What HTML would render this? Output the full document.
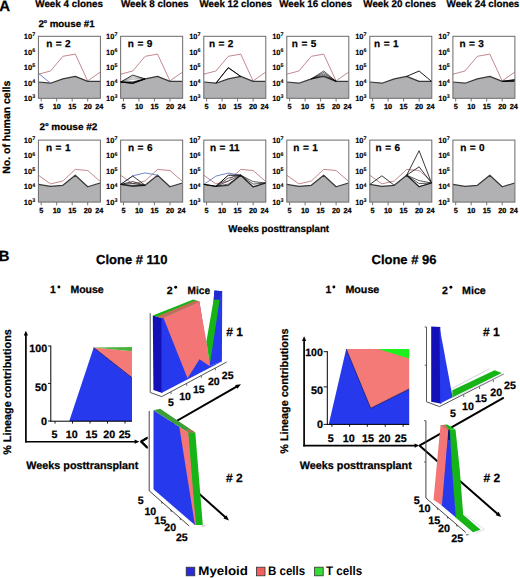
<!DOCTYPE html>
<html><head><meta charset="utf-8"><style>
html,body{margin:0;padding:0;background:#fff;}
body{width:520px;height:578px;overflow:hidden;}
svg{display:block;font-family:"Liberation Sans", sans-serif;text-rendering:geometricPrecision;}
</style></head><body>
<svg width="520" height="578" viewBox="0 0 520 578">
<text x="-0.70" y="10.90" font-size="15" text-anchor="start" font-weight="bold" fill="#000" stroke="#000" stroke-width="0.25" >A</text>
<text x="35.30" y="7.00" font-size="9.8" text-anchor="start" font-weight="bold" fill="#000" stroke="#000" stroke-width="0.25" textLength="67.6" lengthAdjust="spacingAndGlyphs">Week 4 clones</text>
<text x="121.00" y="7.00" font-size="9.8" text-anchor="start" font-weight="bold" fill="#000" stroke="#000" stroke-width="0.25" textLength="67.6" lengthAdjust="spacingAndGlyphs">Week 8 clones</text>
<text x="199.50" y="7.00" font-size="9.8" text-anchor="start" font-weight="bold" fill="#000" stroke="#000" stroke-width="0.25" textLength="72.5" lengthAdjust="spacingAndGlyphs">Week 12 clones</text>
<text x="279.20" y="7.00" font-size="9.8" text-anchor="start" font-weight="bold" fill="#000" stroke="#000" stroke-width="0.25" textLength="72.69999999999999" lengthAdjust="spacingAndGlyphs">Week 16 clones</text>
<text x="363.35" y="7.00" font-size="9.8" text-anchor="start" font-weight="bold" fill="#000" stroke="#000" stroke-width="0.25" textLength="72.69999999999999" lengthAdjust="spacingAndGlyphs">Week 20 clones</text>
<text x="446.60" y="7.00" font-size="9.8" text-anchor="start" font-weight="bold" fill="#000" stroke="#000" stroke-width="0.25" textLength="72.69999999999999" lengthAdjust="spacingAndGlyphs">Week 24 clones</text>
<text x="38.40" y="26.80" font-size="9.6" text-anchor="start" font-weight="bold" fill="#000" stroke="#000" stroke-width="0.25" textLength="56.2" lengthAdjust="spacingAndGlyphs">2<tspan font-size="5.2" dy="-3.6">o</tspan><tspan dy="3.6"> mouse #1</tspan></text>
<text x="39.60" y="129.80" font-size="9.6" text-anchor="start" font-weight="bold" fill="#000" stroke="#000" stroke-width="0.25" textLength="57.8" lengthAdjust="spacingAndGlyphs">2<tspan font-size="5.2" dy="-3.6">o</tspan><tspan dy="3.6"> mouse #2</tspan></text>
<polygon points="38.40,98.30 38.40,82.00 50.50,83.20 62.90,78.90 75.30,76.40 87.70,81.40 100.10,81.40 100.40,98.30" fill="#b1b1b3" stroke="none" stroke-width="0" />
<polyline points="38.40,74.20 50.50,71.00 62.90,56.30 75.30,54.10 87.70,80.90 100.10,72.20" fill="none" stroke="#c48890" stroke-width="1.0" stroke-linejoin="round" />
<polyline points="38.40,82.00 50.50,83.20 62.90,78.90 75.30,76.40 87.70,81.40 100.10,81.40" fill="none" stroke="#383838" stroke-width="1.2" stroke-linejoin="round" />
<rect x="38.40" y="36.30" width="62.0" height="62.0" fill="none" stroke="#6a6a6a" stroke-width="1"/>
<text x="32.10" y="101.00" font-size="7.5" text-anchor="end" font-weight="bold" fill="#000" stroke="#000" stroke-width="0.15" >10</text>
<text x="32.20" y="98.40" font-size="5.4" text-anchor="start" font-weight="bold" fill="#000" stroke="#000" stroke-width="0.1" >3</text>
<text x="32.10" y="85.50" font-size="7.5" text-anchor="end" font-weight="bold" fill="#000" stroke="#000" stroke-width="0.15" >10</text>
<text x="32.20" y="82.90" font-size="5.4" text-anchor="start" font-weight="bold" fill="#000" stroke="#000" stroke-width="0.1" >4</text>
<text x="32.10" y="70.00" font-size="7.5" text-anchor="end" font-weight="bold" fill="#000" stroke="#000" stroke-width="0.15" >10</text>
<text x="32.20" y="67.40" font-size="5.4" text-anchor="start" font-weight="bold" fill="#000" stroke="#000" stroke-width="0.1" >5</text>
<text x="32.10" y="54.50" font-size="7.5" text-anchor="end" font-weight="bold" fill="#000" stroke="#000" stroke-width="0.15" >10</text>
<text x="32.20" y="51.90" font-size="5.4" text-anchor="start" font-weight="bold" fill="#000" stroke="#000" stroke-width="0.1" >6</text>
<text x="32.10" y="39.00" font-size="7.5" text-anchor="end" font-weight="bold" fill="#000" stroke="#000" stroke-width="0.15" >10</text>
<text x="32.20" y="36.40" font-size="5.4" text-anchor="start" font-weight="bold" fill="#000" stroke="#000" stroke-width="0.1" >7</text>
<line x1="41.20" y1="98.30" x2="41.20" y2="101.50" stroke="#666" stroke-width="0.9" />
<text x="41.20" y="109.40" font-size="7.3" text-anchor="middle" font-weight="bold" fill="#000" stroke="#000" stroke-width="0.25" >5</text>
<line x1="56.70" y1="98.30" x2="56.70" y2="101.50" stroke="#666" stroke-width="0.9" />
<text x="56.70" y="109.40" font-size="7.3" text-anchor="middle" font-weight="bold" fill="#000" stroke="#000" stroke-width="0.25" >10</text>
<line x1="72.20" y1="98.30" x2="72.20" y2="101.50" stroke="#666" stroke-width="0.9" />
<text x="72.20" y="109.40" font-size="7.3" text-anchor="middle" font-weight="bold" fill="#000" stroke="#000" stroke-width="0.25" >15</text>
<line x1="87.70" y1="98.30" x2="87.70" y2="101.50" stroke="#666" stroke-width="0.9" />
<text x="87.70" y="109.40" font-size="7.3" text-anchor="middle" font-weight="bold" fill="#000" stroke="#000" stroke-width="0.25" >20</text>
<text x="99.20" y="109.40" font-size="7.3" text-anchor="middle" font-weight="bold" fill="#000" stroke="#000" stroke-width="0.25" >24</text>
<text x="46.20" y="47.20" font-size="10" text-anchor="start" font-weight="bold" fill="#000" stroke="#000" stroke-width="0.25" word-spacing="0.7">n = 2</text>
<polygon points="120.65,98.30 120.65,82.00 132.75,83.20 145.15,78.90 157.55,76.40 169.95,81.40 182.35,81.40 182.65,98.30" fill="#b1b1b3" stroke="none" stroke-width="0" />
<polyline points="120.65,74.20 132.75,71.00 145.15,56.30 157.55,54.10 169.95,80.90 182.35,72.20" fill="none" stroke="#c48890" stroke-width="1.0" stroke-linejoin="round" />
<polyline points="120.65,82.00 132.75,83.20 145.15,78.90 157.55,76.40 169.95,81.40 182.35,81.40" fill="none" stroke="#383838" stroke-width="1.2" stroke-linejoin="round" />
<rect x="120.65" y="36.30" width="62.0" height="62.0" fill="none" stroke="#6a6a6a" stroke-width="1"/>
<text x="114.35" y="101.00" font-size="7.5" text-anchor="end" font-weight="bold" fill="#000" stroke="#000" stroke-width="0.15" >10</text>
<text x="114.45" y="98.40" font-size="5.4" text-anchor="start" font-weight="bold" fill="#000" stroke="#000" stroke-width="0.1" >3</text>
<text x="114.35" y="85.50" font-size="7.5" text-anchor="end" font-weight="bold" fill="#000" stroke="#000" stroke-width="0.15" >10</text>
<text x="114.45" y="82.90" font-size="5.4" text-anchor="start" font-weight="bold" fill="#000" stroke="#000" stroke-width="0.1" >4</text>
<text x="114.35" y="70.00" font-size="7.5" text-anchor="end" font-weight="bold" fill="#000" stroke="#000" stroke-width="0.15" >10</text>
<text x="114.45" y="67.40" font-size="5.4" text-anchor="start" font-weight="bold" fill="#000" stroke="#000" stroke-width="0.1" >5</text>
<text x="114.35" y="54.50" font-size="7.5" text-anchor="end" font-weight="bold" fill="#000" stroke="#000" stroke-width="0.15" >10</text>
<text x="114.45" y="51.90" font-size="5.4" text-anchor="start" font-weight="bold" fill="#000" stroke="#000" stroke-width="0.1" >6</text>
<text x="114.35" y="39.00" font-size="7.5" text-anchor="end" font-weight="bold" fill="#000" stroke="#000" stroke-width="0.15" >10</text>
<text x="114.45" y="36.40" font-size="5.4" text-anchor="start" font-weight="bold" fill="#000" stroke="#000" stroke-width="0.1" >7</text>
<line x1="123.45" y1="98.30" x2="123.45" y2="101.50" stroke="#666" stroke-width="0.9" />
<text x="123.45" y="109.40" font-size="7.3" text-anchor="middle" font-weight="bold" fill="#000" stroke="#000" stroke-width="0.25" >5</text>
<line x1="138.95" y1="98.30" x2="138.95" y2="101.50" stroke="#666" stroke-width="0.9" />
<text x="138.95" y="109.40" font-size="7.3" text-anchor="middle" font-weight="bold" fill="#000" stroke="#000" stroke-width="0.25" >10</text>
<line x1="154.45" y1="98.30" x2="154.45" y2="101.50" stroke="#666" stroke-width="0.9" />
<text x="154.45" y="109.40" font-size="7.3" text-anchor="middle" font-weight="bold" fill="#000" stroke="#000" stroke-width="0.25" >15</text>
<line x1="169.95" y1="98.30" x2="169.95" y2="101.50" stroke="#666" stroke-width="0.9" />
<text x="169.95" y="109.40" font-size="7.3" text-anchor="middle" font-weight="bold" fill="#000" stroke="#000" stroke-width="0.25" >20</text>
<text x="181.45" y="109.40" font-size="7.3" text-anchor="middle" font-weight="bold" fill="#000" stroke="#000" stroke-width="0.25" >24</text>
<text x="127.80" y="47.20" font-size="10" text-anchor="start" font-weight="bold" fill="#000" stroke="#000" stroke-width="0.25" word-spacing="0.7">n = 9</text>
<polygon points="203.80,98.30 203.80,82.00 215.90,83.20 228.30,78.90 240.70,76.40 253.10,81.40 265.50,81.40 265.80,98.30" fill="#b1b1b3" stroke="none" stroke-width="0" />
<polyline points="203.80,74.20 215.90,71.00 228.30,56.30 240.70,54.10 253.10,80.90 265.50,72.20" fill="none" stroke="#c48890" stroke-width="1.0" stroke-linejoin="round" />
<polyline points="203.80,82.00 215.90,83.20 228.30,78.90 240.70,76.40 253.10,81.40 265.50,81.40" fill="none" stroke="#383838" stroke-width="1.2" stroke-linejoin="round" />
<rect x="203.80" y="36.30" width="62.0" height="62.0" fill="none" stroke="#6a6a6a" stroke-width="1"/>
<text x="197.50" y="101.00" font-size="7.5" text-anchor="end" font-weight="bold" fill="#000" stroke="#000" stroke-width="0.15" >10</text>
<text x="197.60" y="98.40" font-size="5.4" text-anchor="start" font-weight="bold" fill="#000" stroke="#000" stroke-width="0.1" >3</text>
<text x="197.50" y="85.50" font-size="7.5" text-anchor="end" font-weight="bold" fill="#000" stroke="#000" stroke-width="0.15" >10</text>
<text x="197.60" y="82.90" font-size="5.4" text-anchor="start" font-weight="bold" fill="#000" stroke="#000" stroke-width="0.1" >4</text>
<text x="197.50" y="70.00" font-size="7.5" text-anchor="end" font-weight="bold" fill="#000" stroke="#000" stroke-width="0.15" >10</text>
<text x="197.60" y="67.40" font-size="5.4" text-anchor="start" font-weight="bold" fill="#000" stroke="#000" stroke-width="0.1" >5</text>
<text x="197.50" y="54.50" font-size="7.5" text-anchor="end" font-weight="bold" fill="#000" stroke="#000" stroke-width="0.15" >10</text>
<text x="197.60" y="51.90" font-size="5.4" text-anchor="start" font-weight="bold" fill="#000" stroke="#000" stroke-width="0.1" >6</text>
<text x="197.50" y="39.00" font-size="7.5" text-anchor="end" font-weight="bold" fill="#000" stroke="#000" stroke-width="0.15" >10</text>
<text x="197.60" y="36.40" font-size="5.4" text-anchor="start" font-weight="bold" fill="#000" stroke="#000" stroke-width="0.1" >7</text>
<line x1="206.60" y1="98.30" x2="206.60" y2="101.50" stroke="#666" stroke-width="0.9" />
<text x="206.60" y="109.40" font-size="7.3" text-anchor="middle" font-weight="bold" fill="#000" stroke="#000" stroke-width="0.25" >5</text>
<line x1="222.10" y1="98.30" x2="222.10" y2="101.50" stroke="#666" stroke-width="0.9" />
<text x="222.10" y="109.40" font-size="7.3" text-anchor="middle" font-weight="bold" fill="#000" stroke="#000" stroke-width="0.25" >10</text>
<line x1="237.60" y1="98.30" x2="237.60" y2="101.50" stroke="#666" stroke-width="0.9" />
<text x="237.60" y="109.40" font-size="7.3" text-anchor="middle" font-weight="bold" fill="#000" stroke="#000" stroke-width="0.25" >15</text>
<line x1="253.10" y1="98.30" x2="253.10" y2="101.50" stroke="#666" stroke-width="0.9" />
<text x="253.10" y="109.40" font-size="7.3" text-anchor="middle" font-weight="bold" fill="#000" stroke="#000" stroke-width="0.25" >20</text>
<text x="264.60" y="109.40" font-size="7.3" text-anchor="middle" font-weight="bold" fill="#000" stroke="#000" stroke-width="0.25" >24</text>
<text x="208.90" y="47.20" font-size="10" text-anchor="start" font-weight="bold" fill="#000" stroke="#000" stroke-width="0.25" word-spacing="0.7">n = 2</text>
<polygon points="286.80,98.30 286.80,82.00 298.90,83.20 311.30,78.90 323.70,76.40 336.10,81.40 348.50,81.40 348.80,98.30" fill="#b1b1b3" stroke="none" stroke-width="0" />
<polyline points="286.80,74.20 298.90,71.00 311.30,56.30 323.70,54.10 336.10,80.90 348.50,72.20" fill="none" stroke="#c48890" stroke-width="1.0" stroke-linejoin="round" />
<polyline points="286.80,82.00 298.90,83.20 311.30,78.90 323.70,76.40 336.10,81.40 348.50,81.40" fill="none" stroke="#383838" stroke-width="1.2" stroke-linejoin="round" />
<rect x="286.80" y="36.30" width="62.0" height="62.0" fill="none" stroke="#6a6a6a" stroke-width="1"/>
<text x="280.50" y="101.00" font-size="7.5" text-anchor="end" font-weight="bold" fill="#000" stroke="#000" stroke-width="0.15" >10</text>
<text x="280.60" y="98.40" font-size="5.4" text-anchor="start" font-weight="bold" fill="#000" stroke="#000" stroke-width="0.1" >3</text>
<text x="280.50" y="85.50" font-size="7.5" text-anchor="end" font-weight="bold" fill="#000" stroke="#000" stroke-width="0.15" >10</text>
<text x="280.60" y="82.90" font-size="5.4" text-anchor="start" font-weight="bold" fill="#000" stroke="#000" stroke-width="0.1" >4</text>
<text x="280.50" y="70.00" font-size="7.5" text-anchor="end" font-weight="bold" fill="#000" stroke="#000" stroke-width="0.15" >10</text>
<text x="280.60" y="67.40" font-size="5.4" text-anchor="start" font-weight="bold" fill="#000" stroke="#000" stroke-width="0.1" >5</text>
<text x="280.50" y="54.50" font-size="7.5" text-anchor="end" font-weight="bold" fill="#000" stroke="#000" stroke-width="0.15" >10</text>
<text x="280.60" y="51.90" font-size="5.4" text-anchor="start" font-weight="bold" fill="#000" stroke="#000" stroke-width="0.1" >6</text>
<text x="280.50" y="39.00" font-size="7.5" text-anchor="end" font-weight="bold" fill="#000" stroke="#000" stroke-width="0.15" >10</text>
<text x="280.60" y="36.40" font-size="5.4" text-anchor="start" font-weight="bold" fill="#000" stroke="#000" stroke-width="0.1" >7</text>
<line x1="289.60" y1="98.30" x2="289.60" y2="101.50" stroke="#666" stroke-width="0.9" />
<text x="289.60" y="109.40" font-size="7.3" text-anchor="middle" font-weight="bold" fill="#000" stroke="#000" stroke-width="0.25" >5</text>
<line x1="305.10" y1="98.30" x2="305.10" y2="101.50" stroke="#666" stroke-width="0.9" />
<text x="305.10" y="109.40" font-size="7.3" text-anchor="middle" font-weight="bold" fill="#000" stroke="#000" stroke-width="0.25" >10</text>
<line x1="320.60" y1="98.30" x2="320.60" y2="101.50" stroke="#666" stroke-width="0.9" />
<text x="320.60" y="109.40" font-size="7.3" text-anchor="middle" font-weight="bold" fill="#000" stroke="#000" stroke-width="0.25" >15</text>
<line x1="336.10" y1="98.30" x2="336.10" y2="101.50" stroke="#666" stroke-width="0.9" />
<text x="336.10" y="109.40" font-size="7.3" text-anchor="middle" font-weight="bold" fill="#000" stroke="#000" stroke-width="0.25" >20</text>
<text x="347.60" y="109.40" font-size="7.3" text-anchor="middle" font-weight="bold" fill="#000" stroke="#000" stroke-width="0.25" >24</text>
<text x="291.80" y="47.20" font-size="10" text-anchor="start" font-weight="bold" fill="#000" stroke="#000" stroke-width="0.25" word-spacing="0.7">n = 5</text>
<polygon points="369.80,98.30 369.80,82.00 381.90,83.20 394.30,78.90 406.70,76.40 419.10,81.40 431.50,81.40 431.80,98.30" fill="#b1b1b3" stroke="none" stroke-width="0" />
<polyline points="369.80,82.00 381.90,83.20 394.30,78.90 406.70,76.40 419.10,81.40 431.50,81.40" fill="none" stroke="#383838" stroke-width="1.2" stroke-linejoin="round" />
<rect x="369.80" y="36.30" width="62.0" height="62.0" fill="none" stroke="#6a6a6a" stroke-width="1"/>
<text x="363.50" y="101.00" font-size="7.5" text-anchor="end" font-weight="bold" fill="#000" stroke="#000" stroke-width="0.15" >10</text>
<text x="363.60" y="98.40" font-size="5.4" text-anchor="start" font-weight="bold" fill="#000" stroke="#000" stroke-width="0.1" >3</text>
<text x="363.50" y="85.50" font-size="7.5" text-anchor="end" font-weight="bold" fill="#000" stroke="#000" stroke-width="0.15" >10</text>
<text x="363.60" y="82.90" font-size="5.4" text-anchor="start" font-weight="bold" fill="#000" stroke="#000" stroke-width="0.1" >4</text>
<text x="363.50" y="70.00" font-size="7.5" text-anchor="end" font-weight="bold" fill="#000" stroke="#000" stroke-width="0.15" >10</text>
<text x="363.60" y="67.40" font-size="5.4" text-anchor="start" font-weight="bold" fill="#000" stroke="#000" stroke-width="0.1" >5</text>
<text x="363.50" y="54.50" font-size="7.5" text-anchor="end" font-weight="bold" fill="#000" stroke="#000" stroke-width="0.15" >10</text>
<text x="363.60" y="51.90" font-size="5.4" text-anchor="start" font-weight="bold" fill="#000" stroke="#000" stroke-width="0.1" >6</text>
<text x="363.50" y="39.00" font-size="7.5" text-anchor="end" font-weight="bold" fill="#000" stroke="#000" stroke-width="0.15" >10</text>
<text x="363.60" y="36.40" font-size="5.4" text-anchor="start" font-weight="bold" fill="#000" stroke="#000" stroke-width="0.1" >7</text>
<line x1="372.60" y1="98.30" x2="372.60" y2="101.50" stroke="#666" stroke-width="0.9" />
<text x="372.60" y="109.40" font-size="7.3" text-anchor="middle" font-weight="bold" fill="#000" stroke="#000" stroke-width="0.25" >5</text>
<line x1="388.10" y1="98.30" x2="388.10" y2="101.50" stroke="#666" stroke-width="0.9" />
<text x="388.10" y="109.40" font-size="7.3" text-anchor="middle" font-weight="bold" fill="#000" stroke="#000" stroke-width="0.25" >10</text>
<line x1="403.60" y1="98.30" x2="403.60" y2="101.50" stroke="#666" stroke-width="0.9" />
<text x="403.60" y="109.40" font-size="7.3" text-anchor="middle" font-weight="bold" fill="#000" stroke="#000" stroke-width="0.25" >15</text>
<line x1="419.10" y1="98.30" x2="419.10" y2="101.50" stroke="#666" stroke-width="0.9" />
<text x="419.10" y="109.40" font-size="7.3" text-anchor="middle" font-weight="bold" fill="#000" stroke="#000" stroke-width="0.25" >20</text>
<text x="430.60" y="109.40" font-size="7.3" text-anchor="middle" font-weight="bold" fill="#000" stroke="#000" stroke-width="0.25" >24</text>
<text x="374.10" y="47.20" font-size="10" text-anchor="start" font-weight="bold" fill="#000" stroke="#000" stroke-width="0.25" word-spacing="0.7">n = 1</text>
<polygon points="452.90,98.30 452.90,82.00 465.00,83.20 477.40,78.90 489.80,76.40 502.20,81.40 514.60,81.40 514.90,98.30" fill="#b1b1b3" stroke="none" stroke-width="0" />
<polyline points="452.90,74.20 465.00,71.00 477.40,56.30 489.80,54.10 502.20,80.90 514.60,72.20" fill="none" stroke="#c48890" stroke-width="1.0" stroke-linejoin="round" />
<polyline points="452.90,82.00 465.00,83.20 477.40,78.90 489.80,76.40 502.20,81.40 514.60,81.40" fill="none" stroke="#383838" stroke-width="1.2" stroke-linejoin="round" />
<rect x="452.90" y="36.30" width="62.0" height="62.0" fill="none" stroke="#6a6a6a" stroke-width="1"/>
<text x="446.60" y="101.00" font-size="7.5" text-anchor="end" font-weight="bold" fill="#000" stroke="#000" stroke-width="0.15" >10</text>
<text x="446.70" y="98.40" font-size="5.4" text-anchor="start" font-weight="bold" fill="#000" stroke="#000" stroke-width="0.1" >3</text>
<text x="446.60" y="85.50" font-size="7.5" text-anchor="end" font-weight="bold" fill="#000" stroke="#000" stroke-width="0.15" >10</text>
<text x="446.70" y="82.90" font-size="5.4" text-anchor="start" font-weight="bold" fill="#000" stroke="#000" stroke-width="0.1" >4</text>
<text x="446.60" y="70.00" font-size="7.5" text-anchor="end" font-weight="bold" fill="#000" stroke="#000" stroke-width="0.15" >10</text>
<text x="446.70" y="67.40" font-size="5.4" text-anchor="start" font-weight="bold" fill="#000" stroke="#000" stroke-width="0.1" >5</text>
<text x="446.60" y="54.50" font-size="7.5" text-anchor="end" font-weight="bold" fill="#000" stroke="#000" stroke-width="0.15" >10</text>
<text x="446.70" y="51.90" font-size="5.4" text-anchor="start" font-weight="bold" fill="#000" stroke="#000" stroke-width="0.1" >6</text>
<text x="446.60" y="39.00" font-size="7.5" text-anchor="end" font-weight="bold" fill="#000" stroke="#000" stroke-width="0.15" >10</text>
<text x="446.70" y="36.40" font-size="5.4" text-anchor="start" font-weight="bold" fill="#000" stroke="#000" stroke-width="0.1" >7</text>
<line x1="455.70" y1="98.30" x2="455.70" y2="101.50" stroke="#666" stroke-width="0.9" />
<text x="455.70" y="109.40" font-size="7.3" text-anchor="middle" font-weight="bold" fill="#000" stroke="#000" stroke-width="0.25" >5</text>
<line x1="471.20" y1="98.30" x2="471.20" y2="101.50" stroke="#666" stroke-width="0.9" />
<text x="471.20" y="109.40" font-size="7.3" text-anchor="middle" font-weight="bold" fill="#000" stroke="#000" stroke-width="0.25" >10</text>
<line x1="486.70" y1="98.30" x2="486.70" y2="101.50" stroke="#666" stroke-width="0.9" />
<text x="486.70" y="109.40" font-size="7.3" text-anchor="middle" font-weight="bold" fill="#000" stroke="#000" stroke-width="0.25" >15</text>
<line x1="502.20" y1="98.30" x2="502.20" y2="101.50" stroke="#666" stroke-width="0.9" />
<text x="502.20" y="109.40" font-size="7.3" text-anchor="middle" font-weight="bold" fill="#000" stroke="#000" stroke-width="0.25" >20</text>
<text x="513.70" y="109.40" font-size="7.3" text-anchor="middle" font-weight="bold" fill="#000" stroke="#000" stroke-width="0.25" >24</text>
<text x="459.40" y="47.20" font-size="10" text-anchor="start" font-weight="bold" fill="#000" stroke="#000" stroke-width="0.25" word-spacing="0.7">n = 3</text>
<polygon points="38.40,202.10 38.40,184.40 50.50,186.30 62.90,185.30 75.30,175.20 87.70,186.80 100.10,183.00 100.40,202.10" fill="#b1b1b3" stroke="none" stroke-width="0" />
<polyline points="38.40,175.20 50.50,183.90 62.90,181.00 75.30,169.40 87.70,170.50 100.10,181.30" fill="none" stroke="#c48890" stroke-width="1.0" stroke-linejoin="round" />
<polyline points="38.40,184.40 50.50,186.30 62.90,185.30 75.30,175.20 87.70,186.80 100.10,183.00" fill="none" stroke="#383838" stroke-width="1.2" stroke-linejoin="round" />
<rect x="38.40" y="140.10" width="62.0" height="62.0" fill="none" stroke="#6a6a6a" stroke-width="1"/>
<text x="32.10" y="204.80" font-size="7.5" text-anchor="end" font-weight="bold" fill="#000" stroke="#000" stroke-width="0.15" >10</text>
<text x="32.20" y="202.20" font-size="5.4" text-anchor="start" font-weight="bold" fill="#000" stroke="#000" stroke-width="0.1" >3</text>
<text x="32.10" y="189.30" font-size="7.5" text-anchor="end" font-weight="bold" fill="#000" stroke="#000" stroke-width="0.15" >10</text>
<text x="32.20" y="186.70" font-size="5.4" text-anchor="start" font-weight="bold" fill="#000" stroke="#000" stroke-width="0.1" >4</text>
<text x="32.10" y="173.80" font-size="7.5" text-anchor="end" font-weight="bold" fill="#000" stroke="#000" stroke-width="0.15" >10</text>
<text x="32.20" y="171.20" font-size="5.4" text-anchor="start" font-weight="bold" fill="#000" stroke="#000" stroke-width="0.1" >5</text>
<text x="32.10" y="158.30" font-size="7.5" text-anchor="end" font-weight="bold" fill="#000" stroke="#000" stroke-width="0.15" >10</text>
<text x="32.20" y="155.70" font-size="5.4" text-anchor="start" font-weight="bold" fill="#000" stroke="#000" stroke-width="0.1" >6</text>
<text x="32.10" y="142.80" font-size="7.5" text-anchor="end" font-weight="bold" fill="#000" stroke="#000" stroke-width="0.15" >10</text>
<text x="32.20" y="140.20" font-size="5.4" text-anchor="start" font-weight="bold" fill="#000" stroke="#000" stroke-width="0.1" >7</text>
<line x1="41.20" y1="202.10" x2="41.20" y2="205.30" stroke="#666" stroke-width="0.9" />
<text x="41.20" y="213.20" font-size="7.3" text-anchor="middle" font-weight="bold" fill="#000" stroke="#000" stroke-width="0.25" >5</text>
<line x1="56.70" y1="202.10" x2="56.70" y2="205.30" stroke="#666" stroke-width="0.9" />
<text x="56.70" y="213.20" font-size="7.3" text-anchor="middle" font-weight="bold" fill="#000" stroke="#000" stroke-width="0.25" >10</text>
<line x1="72.20" y1="202.10" x2="72.20" y2="205.30" stroke="#666" stroke-width="0.9" />
<text x="72.20" y="213.20" font-size="7.3" text-anchor="middle" font-weight="bold" fill="#000" stroke="#000" stroke-width="0.25" >15</text>
<line x1="87.70" y1="202.10" x2="87.70" y2="205.30" stroke="#666" stroke-width="0.9" />
<text x="87.70" y="213.20" font-size="7.3" text-anchor="middle" font-weight="bold" fill="#000" stroke="#000" stroke-width="0.25" >20</text>
<text x="99.20" y="213.20" font-size="7.3" text-anchor="middle" font-weight="bold" fill="#000" stroke="#000" stroke-width="0.25" >24</text>
<text x="46.00" y="151.00" font-size="10" text-anchor="start" font-weight="bold" fill="#000" stroke="#000" stroke-width="0.25" word-spacing="0.7">n = 1</text>
<polygon points="120.65,202.10 120.65,184.40 132.75,186.30 145.15,185.30 157.55,175.20 169.95,186.80 182.35,183.00 182.65,202.10" fill="#b1b1b3" stroke="none" stroke-width="0" />
<polyline points="120.65,175.20 132.75,183.90 145.15,181.00 157.55,169.40 169.95,170.50 182.35,181.30" fill="none" stroke="#c48890" stroke-width="1.0" stroke-linejoin="round" />
<polyline points="120.65,184.40 132.75,186.30 145.15,185.30 157.55,175.20 169.95,186.80 182.35,183.00" fill="none" stroke="#383838" stroke-width="1.2" stroke-linejoin="round" />
<rect x="120.65" y="140.10" width="62.0" height="62.0" fill="none" stroke="#6a6a6a" stroke-width="1"/>
<text x="114.35" y="204.80" font-size="7.5" text-anchor="end" font-weight="bold" fill="#000" stroke="#000" stroke-width="0.15" >10</text>
<text x="114.45" y="202.20" font-size="5.4" text-anchor="start" font-weight="bold" fill="#000" stroke="#000" stroke-width="0.1" >3</text>
<text x="114.35" y="189.30" font-size="7.5" text-anchor="end" font-weight="bold" fill="#000" stroke="#000" stroke-width="0.15" >10</text>
<text x="114.45" y="186.70" font-size="5.4" text-anchor="start" font-weight="bold" fill="#000" stroke="#000" stroke-width="0.1" >4</text>
<text x="114.35" y="173.80" font-size="7.5" text-anchor="end" font-weight="bold" fill="#000" stroke="#000" stroke-width="0.15" >10</text>
<text x="114.45" y="171.20" font-size="5.4" text-anchor="start" font-weight="bold" fill="#000" stroke="#000" stroke-width="0.1" >5</text>
<text x="114.35" y="158.30" font-size="7.5" text-anchor="end" font-weight="bold" fill="#000" stroke="#000" stroke-width="0.15" >10</text>
<text x="114.45" y="155.70" font-size="5.4" text-anchor="start" font-weight="bold" fill="#000" stroke="#000" stroke-width="0.1" >6</text>
<text x="114.35" y="142.80" font-size="7.5" text-anchor="end" font-weight="bold" fill="#000" stroke="#000" stroke-width="0.15" >10</text>
<text x="114.45" y="140.20" font-size="5.4" text-anchor="start" font-weight="bold" fill="#000" stroke="#000" stroke-width="0.1" >7</text>
<line x1="123.45" y1="202.10" x2="123.45" y2="205.30" stroke="#666" stroke-width="0.9" />
<text x="123.45" y="213.20" font-size="7.3" text-anchor="middle" font-weight="bold" fill="#000" stroke="#000" stroke-width="0.25" >5</text>
<line x1="138.95" y1="202.10" x2="138.95" y2="205.30" stroke="#666" stroke-width="0.9" />
<text x="138.95" y="213.20" font-size="7.3" text-anchor="middle" font-weight="bold" fill="#000" stroke="#000" stroke-width="0.25" >10</text>
<line x1="154.45" y1="202.10" x2="154.45" y2="205.30" stroke="#666" stroke-width="0.9" />
<text x="154.45" y="213.20" font-size="7.3" text-anchor="middle" font-weight="bold" fill="#000" stroke="#000" stroke-width="0.25" >15</text>
<line x1="169.95" y1="202.10" x2="169.95" y2="205.30" stroke="#666" stroke-width="0.9" />
<text x="169.95" y="213.20" font-size="7.3" text-anchor="middle" font-weight="bold" fill="#000" stroke="#000" stroke-width="0.25" >20</text>
<text x="181.45" y="213.20" font-size="7.3" text-anchor="middle" font-weight="bold" fill="#000" stroke="#000" stroke-width="0.25" >24</text>
<text x="128.00" y="151.00" font-size="10" text-anchor="start" font-weight="bold" fill="#000" stroke="#000" stroke-width="0.25" word-spacing="0.7">n = 6</text>
<polygon points="203.80,202.10 203.80,184.40 215.90,186.30 228.30,185.30 240.70,175.20 253.10,186.80 265.50,183.00 265.80,202.10" fill="#b1b1b3" stroke="none" stroke-width="0" />
<polyline points="203.80,175.20 215.90,183.90 228.30,181.00 240.70,169.40 253.10,170.50 265.50,181.30" fill="none" stroke="#c48890" stroke-width="1.0" stroke-linejoin="round" />
<polyline points="203.80,184.40 215.90,186.30 228.30,185.30 240.70,175.20 253.10,186.80 265.50,183.00" fill="none" stroke="#383838" stroke-width="1.2" stroke-linejoin="round" />
<rect x="203.80" y="140.10" width="62.0" height="62.0" fill="none" stroke="#6a6a6a" stroke-width="1"/>
<text x="197.50" y="204.80" font-size="7.5" text-anchor="end" font-weight="bold" fill="#000" stroke="#000" stroke-width="0.15" >10</text>
<text x="197.60" y="202.20" font-size="5.4" text-anchor="start" font-weight="bold" fill="#000" stroke="#000" stroke-width="0.1" >3</text>
<text x="197.50" y="189.30" font-size="7.5" text-anchor="end" font-weight="bold" fill="#000" stroke="#000" stroke-width="0.15" >10</text>
<text x="197.60" y="186.70" font-size="5.4" text-anchor="start" font-weight="bold" fill="#000" stroke="#000" stroke-width="0.1" >4</text>
<text x="197.50" y="173.80" font-size="7.5" text-anchor="end" font-weight="bold" fill="#000" stroke="#000" stroke-width="0.15" >10</text>
<text x="197.60" y="171.20" font-size="5.4" text-anchor="start" font-weight="bold" fill="#000" stroke="#000" stroke-width="0.1" >5</text>
<text x="197.50" y="158.30" font-size="7.5" text-anchor="end" font-weight="bold" fill="#000" stroke="#000" stroke-width="0.15" >10</text>
<text x="197.60" y="155.70" font-size="5.4" text-anchor="start" font-weight="bold" fill="#000" stroke="#000" stroke-width="0.1" >6</text>
<text x="197.50" y="142.80" font-size="7.5" text-anchor="end" font-weight="bold" fill="#000" stroke="#000" stroke-width="0.15" >10</text>
<text x="197.60" y="140.20" font-size="5.4" text-anchor="start" font-weight="bold" fill="#000" stroke="#000" stroke-width="0.1" >7</text>
<line x1="206.60" y1="202.10" x2="206.60" y2="205.30" stroke="#666" stroke-width="0.9" />
<text x="206.60" y="213.20" font-size="7.3" text-anchor="middle" font-weight="bold" fill="#000" stroke="#000" stroke-width="0.25" >5</text>
<line x1="222.10" y1="202.10" x2="222.10" y2="205.30" stroke="#666" stroke-width="0.9" />
<text x="222.10" y="213.20" font-size="7.3" text-anchor="middle" font-weight="bold" fill="#000" stroke="#000" stroke-width="0.25" >10</text>
<line x1="237.60" y1="202.10" x2="237.60" y2="205.30" stroke="#666" stroke-width="0.9" />
<text x="237.60" y="213.20" font-size="7.3" text-anchor="middle" font-weight="bold" fill="#000" stroke="#000" stroke-width="0.25" >15</text>
<line x1="253.10" y1="202.10" x2="253.10" y2="205.30" stroke="#666" stroke-width="0.9" />
<text x="253.10" y="213.20" font-size="7.3" text-anchor="middle" font-weight="bold" fill="#000" stroke="#000" stroke-width="0.25" >20</text>
<text x="264.60" y="213.20" font-size="7.3" text-anchor="middle" font-weight="bold" fill="#000" stroke="#000" stroke-width="0.25" >24</text>
<text x="210.00" y="151.00" font-size="10" text-anchor="start" font-weight="bold" fill="#000" stroke="#000" stroke-width="0.25" word-spacing="0.7">n = 11</text>
<polygon points="286.80,202.10 286.80,184.40 298.90,186.30 311.30,185.30 323.70,175.20 336.10,186.80 348.50,183.00 348.80,202.10" fill="#b1b1b3" stroke="none" stroke-width="0" />
<polyline points="286.80,175.20 298.90,183.90 311.30,181.00 323.70,169.40 336.10,170.50 348.50,181.30" fill="none" stroke="#c48890" stroke-width="1.0" stroke-linejoin="round" />
<polyline points="286.80,184.40 298.90,186.30 311.30,185.30 323.70,175.20 336.10,186.80 348.50,183.00" fill="none" stroke="#383838" stroke-width="1.2" stroke-linejoin="round" />
<rect x="286.80" y="140.10" width="62.0" height="62.0" fill="none" stroke="#6a6a6a" stroke-width="1"/>
<text x="280.50" y="204.80" font-size="7.5" text-anchor="end" font-weight="bold" fill="#000" stroke="#000" stroke-width="0.15" >10</text>
<text x="280.60" y="202.20" font-size="5.4" text-anchor="start" font-weight="bold" fill="#000" stroke="#000" stroke-width="0.1" >3</text>
<text x="280.50" y="189.30" font-size="7.5" text-anchor="end" font-weight="bold" fill="#000" stroke="#000" stroke-width="0.15" >10</text>
<text x="280.60" y="186.70" font-size="5.4" text-anchor="start" font-weight="bold" fill="#000" stroke="#000" stroke-width="0.1" >4</text>
<text x="280.50" y="173.80" font-size="7.5" text-anchor="end" font-weight="bold" fill="#000" stroke="#000" stroke-width="0.15" >10</text>
<text x="280.60" y="171.20" font-size="5.4" text-anchor="start" font-weight="bold" fill="#000" stroke="#000" stroke-width="0.1" >5</text>
<text x="280.50" y="158.30" font-size="7.5" text-anchor="end" font-weight="bold" fill="#000" stroke="#000" stroke-width="0.15" >10</text>
<text x="280.60" y="155.70" font-size="5.4" text-anchor="start" font-weight="bold" fill="#000" stroke="#000" stroke-width="0.1" >6</text>
<text x="280.50" y="142.80" font-size="7.5" text-anchor="end" font-weight="bold" fill="#000" stroke="#000" stroke-width="0.15" >10</text>
<text x="280.60" y="140.20" font-size="5.4" text-anchor="start" font-weight="bold" fill="#000" stroke="#000" stroke-width="0.1" >7</text>
<line x1="289.60" y1="202.10" x2="289.60" y2="205.30" stroke="#666" stroke-width="0.9" />
<text x="289.60" y="213.20" font-size="7.3" text-anchor="middle" font-weight="bold" fill="#000" stroke="#000" stroke-width="0.25" >5</text>
<line x1="305.10" y1="202.10" x2="305.10" y2="205.30" stroke="#666" stroke-width="0.9" />
<text x="305.10" y="213.20" font-size="7.3" text-anchor="middle" font-weight="bold" fill="#000" stroke="#000" stroke-width="0.25" >10</text>
<line x1="320.60" y1="202.10" x2="320.60" y2="205.30" stroke="#666" stroke-width="0.9" />
<text x="320.60" y="213.20" font-size="7.3" text-anchor="middle" font-weight="bold" fill="#000" stroke="#000" stroke-width="0.25" >15</text>
<line x1="336.10" y1="202.10" x2="336.10" y2="205.30" stroke="#666" stroke-width="0.9" />
<text x="336.10" y="213.20" font-size="7.3" text-anchor="middle" font-weight="bold" fill="#000" stroke="#000" stroke-width="0.25" >20</text>
<text x="347.60" y="213.20" font-size="7.3" text-anchor="middle" font-weight="bold" fill="#000" stroke="#000" stroke-width="0.25" >24</text>
<text x="293.30" y="151.00" font-size="10" text-anchor="start" font-weight="bold" fill="#000" stroke="#000" stroke-width="0.25" word-spacing="0.7">n = 1</text>
<polygon points="369.80,202.10 369.80,184.40 381.90,186.30 394.30,185.30 406.70,175.20 419.10,186.80 431.50,183.00 431.80,202.10" fill="#b1b1b3" stroke="none" stroke-width="0" />
<polyline points="369.80,175.20 381.90,183.90 394.30,181.00 406.70,169.40 419.10,170.50 431.50,181.30" fill="none" stroke="#c48890" stroke-width="1.0" stroke-linejoin="round" />
<polyline points="369.80,184.40 381.90,186.30 394.30,185.30 406.70,175.20 419.10,186.80 431.50,183.00" fill="none" stroke="#383838" stroke-width="1.2" stroke-linejoin="round" />
<rect x="369.80" y="140.10" width="62.0" height="62.0" fill="none" stroke="#6a6a6a" stroke-width="1"/>
<text x="363.50" y="204.80" font-size="7.5" text-anchor="end" font-weight="bold" fill="#000" stroke="#000" stroke-width="0.15" >10</text>
<text x="363.60" y="202.20" font-size="5.4" text-anchor="start" font-weight="bold" fill="#000" stroke="#000" stroke-width="0.1" >3</text>
<text x="363.50" y="189.30" font-size="7.5" text-anchor="end" font-weight="bold" fill="#000" stroke="#000" stroke-width="0.15" >10</text>
<text x="363.60" y="186.70" font-size="5.4" text-anchor="start" font-weight="bold" fill="#000" stroke="#000" stroke-width="0.1" >4</text>
<text x="363.50" y="173.80" font-size="7.5" text-anchor="end" font-weight="bold" fill="#000" stroke="#000" stroke-width="0.15" >10</text>
<text x="363.60" y="171.20" font-size="5.4" text-anchor="start" font-weight="bold" fill="#000" stroke="#000" stroke-width="0.1" >5</text>
<text x="363.50" y="158.30" font-size="7.5" text-anchor="end" font-weight="bold" fill="#000" stroke="#000" stroke-width="0.15" >10</text>
<text x="363.60" y="155.70" font-size="5.4" text-anchor="start" font-weight="bold" fill="#000" stroke="#000" stroke-width="0.1" >6</text>
<text x="363.50" y="142.80" font-size="7.5" text-anchor="end" font-weight="bold" fill="#000" stroke="#000" stroke-width="0.15" >10</text>
<text x="363.60" y="140.20" font-size="5.4" text-anchor="start" font-weight="bold" fill="#000" stroke="#000" stroke-width="0.1" >7</text>
<line x1="372.60" y1="202.10" x2="372.60" y2="205.30" stroke="#666" stroke-width="0.9" />
<text x="372.60" y="213.20" font-size="7.3" text-anchor="middle" font-weight="bold" fill="#000" stroke="#000" stroke-width="0.25" >5</text>
<line x1="388.10" y1="202.10" x2="388.10" y2="205.30" stroke="#666" stroke-width="0.9" />
<text x="388.10" y="213.20" font-size="7.3" text-anchor="middle" font-weight="bold" fill="#000" stroke="#000" stroke-width="0.25" >10</text>
<line x1="403.60" y1="202.10" x2="403.60" y2="205.30" stroke="#666" stroke-width="0.9" />
<text x="403.60" y="213.20" font-size="7.3" text-anchor="middle" font-weight="bold" fill="#000" stroke="#000" stroke-width="0.25" >15</text>
<line x1="419.10" y1="202.10" x2="419.10" y2="205.30" stroke="#666" stroke-width="0.9" />
<text x="419.10" y="213.20" font-size="7.3" text-anchor="middle" font-weight="bold" fill="#000" stroke="#000" stroke-width="0.25" >20</text>
<text x="430.60" y="213.20" font-size="7.3" text-anchor="middle" font-weight="bold" fill="#000" stroke="#000" stroke-width="0.25" >24</text>
<text x="375.60" y="151.00" font-size="10" text-anchor="start" font-weight="bold" fill="#000" stroke="#000" stroke-width="0.25" word-spacing="0.7">n = 6</text>
<polygon points="452.90,202.10 452.90,184.40 465.00,186.30 477.40,185.30 489.80,175.20 502.20,186.80 514.60,183.00 514.90,202.10" fill="#b1b1b3" stroke="none" stroke-width="0" />
<polyline points="452.90,184.40 465.00,186.30 477.40,185.30 489.80,175.20 502.20,186.80 514.60,183.00" fill="none" stroke="#383838" stroke-width="1.2" stroke-linejoin="round" />
<rect x="452.90" y="140.10" width="62.0" height="62.0" fill="none" stroke="#6a6a6a" stroke-width="1"/>
<text x="446.60" y="204.80" font-size="7.5" text-anchor="end" font-weight="bold" fill="#000" stroke="#000" stroke-width="0.15" >10</text>
<text x="446.70" y="202.20" font-size="5.4" text-anchor="start" font-weight="bold" fill="#000" stroke="#000" stroke-width="0.1" >3</text>
<text x="446.60" y="189.30" font-size="7.5" text-anchor="end" font-weight="bold" fill="#000" stroke="#000" stroke-width="0.15" >10</text>
<text x="446.70" y="186.70" font-size="5.4" text-anchor="start" font-weight="bold" fill="#000" stroke="#000" stroke-width="0.1" >4</text>
<text x="446.60" y="173.80" font-size="7.5" text-anchor="end" font-weight="bold" fill="#000" stroke="#000" stroke-width="0.15" >10</text>
<text x="446.70" y="171.20" font-size="5.4" text-anchor="start" font-weight="bold" fill="#000" stroke="#000" stroke-width="0.1" >5</text>
<text x="446.60" y="158.30" font-size="7.5" text-anchor="end" font-weight="bold" fill="#000" stroke="#000" stroke-width="0.15" >10</text>
<text x="446.70" y="155.70" font-size="5.4" text-anchor="start" font-weight="bold" fill="#000" stroke="#000" stroke-width="0.1" >6</text>
<text x="446.60" y="142.80" font-size="7.5" text-anchor="end" font-weight="bold" fill="#000" stroke="#000" stroke-width="0.15" >10</text>
<text x="446.70" y="140.20" font-size="5.4" text-anchor="start" font-weight="bold" fill="#000" stroke="#000" stroke-width="0.1" >7</text>
<line x1="455.70" y1="202.10" x2="455.70" y2="205.30" stroke="#666" stroke-width="0.9" />
<text x="455.70" y="213.20" font-size="7.3" text-anchor="middle" font-weight="bold" fill="#000" stroke="#000" stroke-width="0.25" >5</text>
<line x1="471.20" y1="202.10" x2="471.20" y2="205.30" stroke="#666" stroke-width="0.9" />
<text x="471.20" y="213.20" font-size="7.3" text-anchor="middle" font-weight="bold" fill="#000" stroke="#000" stroke-width="0.25" >10</text>
<line x1="486.70" y1="202.10" x2="486.70" y2="205.30" stroke="#666" stroke-width="0.9" />
<text x="486.70" y="213.20" font-size="7.3" text-anchor="middle" font-weight="bold" fill="#000" stroke="#000" stroke-width="0.25" >15</text>
<line x1="502.20" y1="202.10" x2="502.20" y2="205.30" stroke="#666" stroke-width="0.9" />
<text x="502.20" y="213.20" font-size="7.3" text-anchor="middle" font-weight="bold" fill="#000" stroke="#000" stroke-width="0.25" >20</text>
<text x="513.70" y="213.20" font-size="7.3" text-anchor="middle" font-weight="bold" fill="#000" stroke="#000" stroke-width="0.25" >24</text>
<text x="460.20" y="151.00" font-size="10" text-anchor="start" font-weight="bold" fill="#000" stroke="#000" stroke-width="0.25" word-spacing="0.7">n = 0</text>
<polyline points="38.40,73.30 50.50,83.20" fill="none" stroke="#6478c0" stroke-width="0.9" stroke-linejoin="round" />
<polyline points="120.65,82.00 132.75,76.60 145.15,78.90" fill="none" stroke="#777" stroke-width="0.5" stroke-linejoin="round" />
<polyline points="120.65,82.00 132.75,77.90 145.15,78.90" fill="none" stroke="#777" stroke-width="0.5" stroke-linejoin="round" />
<polyline points="120.65,82.00 132.75,79.30 145.15,78.90" fill="none" stroke="#777" stroke-width="0.5" stroke-linejoin="round" />
<polyline points="120.65,82.00 132.75,75.10 145.15,78.90" fill="none" stroke="#000" stroke-width="0.8" stroke-linejoin="round" />
<polyline points="120.65,82.00 132.75,81.90 145.15,78.90" fill="none" stroke="#000" stroke-width="0.8" stroke-linejoin="round" />
<polyline points="120.65,82.00 132.75,82.80 145.15,78.90" fill="none" stroke="#000" stroke-width="0.8" stroke-linejoin="round" />
<polyline points="120.65,82.00 132.75,83.50 145.15,78.90" fill="none" stroke="#000" stroke-width="0.8" stroke-linejoin="round" />
<polyline points="215.90,83.20 228.30,67.50 240.70,76.40" fill="none" stroke="#000" stroke-width="0.8" stroke-linejoin="round" />
<polyline points="215.90,83.20 228.30,67.90 240.70,76.40" fill="none" stroke="#000" stroke-width="0.8" stroke-linejoin="round" />
<polyline points="311.30,78.90 323.70,70.90 336.10,81.40" fill="none" stroke="#000" stroke-width="0.6" stroke-linejoin="round" />
<polyline points="311.30,78.90 323.70,72.40 336.10,81.40" fill="none" stroke="#000" stroke-width="0.6" stroke-linejoin="round" />
<polyline points="311.30,78.90 323.70,73.90 336.10,81.40" fill="none" stroke="#000" stroke-width="0.6" stroke-linejoin="round" />
<polyline points="311.30,78.90 323.70,75.30 336.10,81.40" fill="none" stroke="#000" stroke-width="0.6" stroke-linejoin="round" />
<polyline points="406.70,76.40 419.10,71.00 431.50,81.40" fill="none" stroke="#000" stroke-width="0.9" stroke-linejoin="round" />
<polyline points="502.20,81.40 514.60,79.50" fill="none" stroke="#000" stroke-width="0.8" stroke-linejoin="round" />
<polyline points="502.20,81.40 514.60,80.20" fill="none" stroke="#000" stroke-width="0.8" stroke-linejoin="round" />
<polyline points="502.20,81.40 514.60,80.80" fill="none" stroke="#000" stroke-width="0.8" stroke-linejoin="round" />
<polyline points="120.65,184.40 132.75,175.80 145.15,172.90 157.55,175.20" fill="none" stroke="#6478c0" stroke-width="0.9" stroke-linejoin="round" />
<polyline points="120.65,184.40 132.75,176.00 145.15,185.30" fill="none" stroke="#111" stroke-width="0.8" stroke-linejoin="round" />
<polyline points="120.65,184.40 132.75,181.60 145.15,185.30" fill="none" stroke="#111" stroke-width="0.8" stroke-linejoin="round" />
<polyline points="120.65,184.40 132.75,183.60 145.15,185.30" fill="none" stroke="#111" stroke-width="0.8" stroke-linejoin="round" />
<polyline points="120.65,184.40 132.75,185.60 145.15,185.30" fill="none" stroke="#111" stroke-width="0.8" stroke-linejoin="round" />
<polyline points="203.80,184.40 215.90,176.10 228.30,173.10 240.70,175.20" fill="none" stroke="#6478c0" stroke-width="0.9" stroke-linejoin="round" />
<polyline points="203.80,184.40 215.90,186.30 228.30,175.20 240.70,175.20" fill="none" stroke="#000" stroke-width="1.0" stroke-linejoin="round" />
<polyline points="215.90,186.30 228.30,178.10 240.70,175.20" fill="none" stroke="#111" stroke-width="0.7" stroke-linejoin="round" />
<polyline points="215.90,186.30 228.30,181.10 240.70,175.20" fill="none" stroke="#111" stroke-width="0.7" stroke-linejoin="round" />
<polyline points="215.90,186.30 228.30,184.10 240.70,175.20" fill="none" stroke="#111" stroke-width="0.7" stroke-linejoin="round" />
<polyline points="240.70,175.20 253.10,181.60 265.50,183.00" fill="none" stroke="#111" stroke-width="0.7" stroke-linejoin="round" />
<polyline points="240.70,175.20 253.10,184.10 265.50,183.00" fill="none" stroke="#111" stroke-width="0.7" stroke-linejoin="round" />
<polyline points="240.70,175.20 253.10,187.10 265.50,183.00" fill="none" stroke="#111" stroke-width="0.7" stroke-linejoin="round" />
<polyline points="406.70,175.20 419.10,150.70 431.50,183.00" fill="none" stroke="#222" stroke-width="0.9" stroke-linejoin="round" />
<polyline points="406.70,175.20 419.10,166.80 431.50,183.00" fill="none" stroke="#222" stroke-width="0.9" stroke-linejoin="round" />
<polyline points="406.70,175.20 419.10,180.60 431.50,183.00" fill="none" stroke="#111" stroke-width="0.7" stroke-linejoin="round" />
<polyline points="406.70,175.20 419.10,183.60 431.50,183.00" fill="none" stroke="#111" stroke-width="0.7" stroke-linejoin="round" />
<polyline points="406.70,175.20 419.10,186.60 431.50,183.00" fill="none" stroke="#111" stroke-width="0.7" stroke-linejoin="round" />
<polyline points="369.80,184.40 381.90,175.80 394.30,185.30" fill="none" stroke="#222" stroke-width="0.9" stroke-linejoin="round" />
<text x="0.00" y="0.00" font-size="10.5" text-anchor="middle" font-weight="bold" fill="#000" stroke="#000" stroke-width="0.25" transform="translate(9.6,127.2) rotate(-90)" textLength="93" lengthAdjust="spacingAndGlyphs">No. of human cells</text>
<text x="228.30" y="232.30" font-size="9.9" text-anchor="start" font-weight="bold" fill="#000" stroke="#000" stroke-width="0.25" textLength="100.8" lengthAdjust="spacingAndGlyphs">Weeks posttransplant</text>
<text x="-1.20" y="261.00" font-size="14.8" text-anchor="start" font-weight="bold" fill="#000" stroke="#000" stroke-width="0.25" >B</text>
<text x="96.00" y="264.00" font-size="13" text-anchor="start" font-weight="bold" fill="#000" stroke="#000" stroke-width="0.25" textLength="71.6" lengthAdjust="spacingAndGlyphs">Clone # 110</text>
<text x="371.50" y="264.00" font-size="13" text-anchor="start" font-weight="bold" fill="#000" stroke="#000" stroke-width="0.25" textLength="65.0" lengthAdjust="spacingAndGlyphs">Clone # 96</text>
<text x="50.00" y="293.20" font-size="10.5" text-anchor="start" font-weight="bold" fill="#000" stroke="#000" stroke-width="0.25" >1</text>
<circle cx="58.90" cy="287.00" r="1.45" fill="#000"/>
<text x="70.40" y="293.20" font-size="10.5" text-anchor="start" font-weight="bold" fill="#000" stroke="#000" stroke-width="0.25" textLength="33.3" lengthAdjust="spacingAndGlyphs">Mouse</text>
<text x="166.80" y="293.50" font-size="10.5" text-anchor="start" font-weight="bold" fill="#000" stroke="#000" stroke-width="0.25" >2</text>
<circle cx="175.70" cy="287.20" r="1.45" fill="#000"/>
<text x="187.60" y="293.50" font-size="10.5" text-anchor="start" font-weight="bold" fill="#000" stroke="#000" stroke-width="0.25" textLength="22.4" lengthAdjust="spacingAndGlyphs">Mice</text>
<text x="325.60" y="293.30" font-size="10.5" text-anchor="start" font-weight="bold" fill="#000" stroke="#000" stroke-width="0.25" >1</text>
<circle cx="333.90" cy="287.00" r="1.45" fill="#000"/>
<text x="345.40" y="293.30" font-size="10.5" text-anchor="start" font-weight="bold" fill="#000" stroke="#000" stroke-width="0.25" textLength="33.9" lengthAdjust="spacingAndGlyphs">Mouse</text>
<text x="442.00" y="293.50" font-size="10.5" text-anchor="start" font-weight="bold" fill="#000" stroke="#000" stroke-width="0.25" >2</text>
<circle cx="450.90" cy="287.20" r="1.45" fill="#000"/>
<text x="462.10" y="293.50" font-size="10.5" text-anchor="start" font-weight="bold" fill="#000" stroke="#000" stroke-width="0.25" textLength="23.7" lengthAdjust="spacingAndGlyphs">Mice</text>
<line x1="25.90" y1="442.50" x2="25.90" y2="334.50" stroke="#000" stroke-width="1.7" />
<polygon points="25.90,330.80 28.00,335.60 23.80,335.60" fill="#000" stroke="none" stroke-width="0" />
<line x1="25.10" y1="441.70" x2="135.50" y2="441.70" stroke="#000" stroke-width="1.6" />
<polygon points="139.40,441.70 134.60,443.80 134.60,439.60" fill="#000" stroke="none" stroke-width="0" />
<polygon points="69.20,421.20 93.70,347.60 132.00,377.70 132.00,421.20" fill="#2639ec" stroke="none" stroke-width="0" />
<polygon points="93.70,347.60 132.00,351.20 132.00,377.70" fill="#f47a78" stroke="none" stroke-width="0" />
<polygon points="93.70,347.60 132.00,347.00 132.00,351.20" fill="#4cb23e" stroke="none" stroke-width="0" />
<line x1="93.70" y1="347.60" x2="132.00" y2="377.70" stroke="#101060" stroke-width="0.8" />
<line x1="50.80" y1="345.50" x2="50.80" y2="421.60" stroke="#000" stroke-width="1.0" />
<line x1="50.30" y1="421.20" x2="132.00" y2="421.20" stroke="#000" stroke-width="1.0" />
<line x1="48.00" y1="346.00" x2="50.80" y2="346.00" stroke="#000" stroke-width="0.9" />
<line x1="48.00" y1="383.40" x2="50.80" y2="383.40" stroke="#000" stroke-width="0.9" />
<line x1="48.00" y1="421.00" x2="50.80" y2="421.00" stroke="#000" stroke-width="0.9" />
<line x1="55.00" y1="421.20" x2="55.00" y2="423.60" stroke="#000" stroke-width="0.9" />
<line x1="72.50" y1="421.20" x2="72.50" y2="423.60" stroke="#000" stroke-width="0.9" />
<line x1="90.00" y1="421.20" x2="90.00" y2="423.60" stroke="#000" stroke-width="0.9" />
<line x1="107.50" y1="421.20" x2="107.50" y2="423.60" stroke="#000" stroke-width="0.9" />
<line x1="125.00" y1="421.20" x2="125.00" y2="423.60" stroke="#000" stroke-width="0.9" />
<text x="47.20" y="352.40" font-size="10.7" text-anchor="end" font-weight="bold" fill="#000" stroke="#000" stroke-width="0.25" >100</text>
<text x="47.00" y="390.80" font-size="10.8" text-anchor="end" font-weight="bold" fill="#000" stroke="#000" stroke-width="0.25" >50</text>
<text x="47.00" y="425.10" font-size="10.8" text-anchor="end" font-weight="bold" fill="#000" stroke="#000" stroke-width="0.25" >0</text>
<text x="54.40" y="438.30" font-size="10.7" text-anchor="middle" font-weight="bold" fill="#000" stroke="#000" stroke-width="0.25" >5</text>
<text x="71.70" y="438.30" font-size="10.7" text-anchor="middle" font-weight="bold" fill="#000" stroke="#000" stroke-width="0.25" >10</text>
<text x="91.50" y="438.30" font-size="10.7" text-anchor="middle" font-weight="bold" fill="#000" stroke="#000" stroke-width="0.25" >15</text>
<text x="109.20" y="438.30" font-size="10.7" text-anchor="middle" font-weight="bold" fill="#000" stroke="#000" stroke-width="0.25" >20</text>
<text x="124.60" y="438.30" font-size="10.7" text-anchor="middle" font-weight="bold" fill="#000" stroke="#000" stroke-width="0.25" >25</text>
<text x="0.00" y="0.00" font-size="11" text-anchor="middle" font-weight="bold" fill="#000" stroke="#000" stroke-width="0.25" transform="translate(11.3,392.0) rotate(-90)" textLength="125.5" lengthAdjust="spacingAndGlyphs">% Lineage contributions</text>
<text x="26.30" y="469.20" font-size="10.9" text-anchor="start" font-weight="bold" fill="#000" stroke="#000" stroke-width="0.25" textLength="112" lengthAdjust="spacingAndGlyphs">Weeks posttransplant</text>
<line x1="304.10" y1="446.40" x2="304.10" y2="340.00" stroke="#000" stroke-width="1.7" />
<polygon points="304.10,336.20 306.20,341.00 302.00,341.00" fill="#000" stroke="none" stroke-width="0" />
<line x1="303.30" y1="445.60" x2="415.00" y2="445.60" stroke="#000" stroke-width="1.6" />
<polygon points="419.40,445.60 414.60,447.70 414.60,443.50" fill="#000" stroke="none" stroke-width="0" />
<polygon points="328.70,424.40 346.20,349.00 370.70,408.30 409.20,389.00 409.20,424.40" fill="#2639ec" stroke="none" stroke-width="0" />
<polygon points="346.20,349.00 409.20,349.00 409.20,389.00 370.70,408.30" fill="#f47a78" stroke="none" stroke-width="0" />
<polygon points="378.00,349.00 409.20,349.00 409.20,358.60" fill="#1ef01e" stroke="none" stroke-width="0" />
<polyline points="346.20,349.00 370.70,408.30 409.20,389.00" fill="none" stroke="#101060" stroke-width="0.8" stroke-linejoin="round" />
<line x1="327.30" y1="351.20" x2="327.30" y2="424.80" stroke="#000" stroke-width="1.0" />
<line x1="326.80" y1="424.40" x2="409.20" y2="424.40" stroke="#000" stroke-width="1.0" />
<line x1="323.60" y1="351.70" x2="327.30" y2="351.70" stroke="#000" stroke-width="0.9" />
<line x1="323.60" y1="386.90" x2="327.30" y2="386.90" stroke="#000" stroke-width="0.9" />
<line x1="323.60" y1="424.40" x2="327.30" y2="424.40" stroke="#000" stroke-width="0.9" />
<line x1="331.90" y1="424.40" x2="331.90" y2="426.80" stroke="#000" stroke-width="0.9" />
<line x1="349.60" y1="424.40" x2="349.60" y2="426.80" stroke="#000" stroke-width="0.9" />
<line x1="367.30" y1="424.40" x2="367.30" y2="426.80" stroke="#000" stroke-width="0.9" />
<line x1="385.20" y1="424.40" x2="385.20" y2="426.80" stroke="#000" stroke-width="0.9" />
<line x1="403.10" y1="424.40" x2="403.10" y2="426.80" stroke="#000" stroke-width="0.9" />
<text x="322.90" y="356.40" font-size="10.6" text-anchor="end" font-weight="bold" fill="#000" stroke="#000" stroke-width="0.25" >100</text>
<text x="322.90" y="394.40" font-size="10.8" text-anchor="end" font-weight="bold" fill="#000" stroke="#000" stroke-width="0.25" >50</text>
<text x="322.90" y="428.10" font-size="10.8" text-anchor="end" font-weight="bold" fill="#000" stroke="#000" stroke-width="0.25" >0</text>
<text x="330.80" y="441.80" font-size="10.8" text-anchor="middle" font-weight="bold" fill="#000" stroke="#000" stroke-width="0.25" >5</text>
<text x="348.70" y="441.80" font-size="10.8" text-anchor="middle" font-weight="bold" fill="#000" stroke="#000" stroke-width="0.25" >10</text>
<text x="367.90" y="441.80" font-size="10.8" text-anchor="middle" font-weight="bold" fill="#000" stroke="#000" stroke-width="0.25" >15</text>
<text x="384.60" y="441.80" font-size="10.8" text-anchor="middle" font-weight="bold" fill="#000" stroke="#000" stroke-width="0.25" >20</text>
<text x="400.80" y="441.80" font-size="10.8" text-anchor="middle" font-weight="bold" fill="#000" stroke="#000" stroke-width="0.25" >25</text>
<text x="0.00" y="0.00" font-size="11" text-anchor="middle" font-weight="bold" fill="#000" stroke="#000" stroke-width="0.25" transform="translate(288.0,391.1) rotate(-90)" textLength="125.2" lengthAdjust="spacingAndGlyphs">% Lineage contributions</text>
<text x="299.80" y="469.20" font-size="10.9" text-anchor="start" font-weight="bold" fill="#000" stroke="#000" stroke-width="0.25" textLength="112" lengthAdjust="spacingAndGlyphs">Weeks posttransplant</text>
<polyline points="150.20,313.20 150.20,392.50 161.80,396.60 226.60,362.00" fill="none" stroke="#555" stroke-width="1.0" stroke-linejoin="round" />
<line x1="171.00" y1="391.90" x2="171.00" y2="394.10" stroke="#555" stroke-width="0.9" />
<line x1="186.70" y1="383.50" x2="186.70" y2="385.70" stroke="#555" stroke-width="0.9" />
<line x1="201.40" y1="375.60" x2="201.40" y2="377.80" stroke="#555" stroke-width="0.9" />
<line x1="215.30" y1="368.10" x2="215.30" y2="370.30" stroke="#555" stroke-width="0.9" />
<text x="171.00" y="406.30" font-size="10.5" text-anchor="middle" font-weight="bold" fill="#000" stroke="#000" stroke-width="0.25" >5</text>
<text x="185.00" y="400.00" font-size="10.5" text-anchor="middle" font-weight="bold" fill="#000" stroke="#000" stroke-width="0.25" >10</text>
<text x="198.80" y="392.50" font-size="10.5" text-anchor="middle" font-weight="bold" fill="#000" stroke="#000" stroke-width="0.25" >15</text>
<text x="213.80" y="385.00" font-size="10.5" text-anchor="middle" font-weight="bold" fill="#000" stroke="#000" stroke-width="0.25" >20</text>
<text x="227.70" y="379.30" font-size="10.5" text-anchor="middle" font-weight="bold" fill="#000" stroke="#000" stroke-width="0.25" >25</text>
<polygon points="152.80,315.40 162.30,318.00 162.30,393.00 153.40,390.00" fill="#1410b8" stroke="none" stroke-width="0" />
<polygon points="161.50,318.20 199.40,301.60 209.50,366.00 221.90,361.50 161.50,393.00" fill="#2639ec" stroke="none" stroke-width="0" />
<polygon points="163.30,317.41 199.40,301.60 202.50,320.00 206.40,341.60 209.00,359.00 209.50,366.00 199.50,359.30 187.50,378.20" fill="#f47575" stroke="none" stroke-width="0" />
<polygon points="152.80,315.40 193.20,299.40 199.40,301.60 161.50,318.20" fill="#17b417" stroke="none" stroke-width="0" />
<polygon points="157.00,316.60 195.60,300.40 199.40,301.60 161.50,318.20" fill="#c86a5a" stroke="none" stroke-width="0" />
<polygon points="214.40,290.60 222.20,291.30 221.90,361.50 209.50,366.00" fill="#2639ec" stroke="none" stroke-width="0" />
<polygon points="214.40,290.60 222.20,291.30 219.60,299.80 213.60,299.80" fill="#1f2ad0" stroke="none" stroke-width="0" />
<polygon points="213.60,299.80 219.60,299.80 210.70,359.50 209.60,364.50 209.00,359.00 206.40,341.60" fill="#17b417" stroke="none" stroke-width="0" />
<text x="226.20" y="335.60" font-size="12" text-anchor="start" font-weight="bold" fill="#000" stroke="#000" stroke-width="0.25" ># 1</text>
<line x1="140.80" y1="441.50" x2="237.50" y2="386.20" stroke="#000" stroke-width="2.0" />
<polygon points="241.00,384.20 237.32,388.84 235.13,385.02" fill="#000" stroke="none" stroke-width="0" />
<line x1="140.80" y1="441.50" x2="226.00" y2="517.80" stroke="#000" stroke-width="2.0" />
<polygon points="229.00,520.50 223.44,518.47 226.37,515.19" fill="#000" stroke="none" stroke-width="0" />
<rect x="147.6" y="405" width="6.5" height="90" fill="#fff"/>
<polyline points="147.30,437.90 141.30,441.50 147.30,447.90" fill="none" stroke="#000" stroke-width="2.1" stroke-linejoin="round" />
<polyline points="149.20,411.00 149.20,490.80 189.20,526.00" fill="none" stroke="#444" stroke-width="1.0" stroke-linejoin="round" />
<line x1="161.50" y1="501.50" x2="162.00" y2="503.70" stroke="#444" stroke-width="0.9" />
<line x1="170.80" y1="509.80" x2="171.30" y2="512.00" stroke="#444" stroke-width="0.9" />
<line x1="180.00" y1="517.90" x2="180.50" y2="520.10" stroke="#444" stroke-width="0.9" />
<text x="140.80" y="503.50" font-size="10.6" text-anchor="middle" font-weight="bold" fill="#000" stroke="#000" stroke-width="0.25" >5</text>
<text x="150.30" y="515.00" font-size="10.6" text-anchor="middle" font-weight="bold" fill="#000" stroke="#000" stroke-width="0.25" >10</text>
<text x="160.20" y="523.50" font-size="10.6" text-anchor="middle" font-weight="bold" fill="#000" stroke="#000" stroke-width="0.25" >15</text>
<text x="170.20" y="531.20" font-size="10.6" text-anchor="middle" font-weight="bold" fill="#000" stroke="#000" stroke-width="0.25" >20</text>
<text x="181.80" y="540.50" font-size="10.6" text-anchor="middle" font-weight="bold" fill="#000" stroke="#000" stroke-width="0.25" >25</text>
<polygon points="187.60,432.10 195.30,432.60 202.80,525.00 195.20,525.00" fill="#17b417" stroke="none" stroke-width="0" />
<polygon points="178.60,426.30 188.30,432.60 195.90,525.00 194.20,525.00" fill="#f47575" stroke="none" stroke-width="0" />
<polygon points="153.50,410.20 179.30,426.80 194.90,525.00 153.50,489.30" fill="#2639ec" stroke="none" stroke-width="0" />
<polygon points="153.50,410.20 160.20,408.70 195.30,432.60 188.30,432.60" fill="#3c9e36" stroke="none" stroke-width="0" />
<polygon points="186.00,429.40 191.50,430.00 195.30,432.60 188.30,432.60" fill="#b07050" stroke="none" stroke-width="0" />
<polygon points="202.80,525.00 206.50,525.00 203.50,527.00 201.00,527.00" fill="#d8d0e8" stroke="none" stroke-width="0" />
<text x="226.10" y="482.40" font-size="12" text-anchor="start" font-weight="bold" fill="#000" stroke="#000" stroke-width="0.25" ># 2</text>
<polyline points="426.50,327.00 426.50,401.80 439.50,406.60 503.60,374.00" fill="none" stroke="#555" stroke-width="1.0" stroke-linejoin="round" />
<line x1="424.60" y1="327.00" x2="426.50" y2="327.00" stroke="#555" stroke-width="0.9" />
<line x1="424.60" y1="365.20" x2="426.50" y2="365.20" stroke="#555" stroke-width="0.9" />
<line x1="463.75" y1="394.80" x2="463.75" y2="397.00" stroke="#555" stroke-width="0.9" />
<line x1="479.60" y1="386.80" x2="479.60" y2="389.00" stroke="#555" stroke-width="0.9" />
<line x1="493.30" y1="379.90" x2="493.30" y2="382.10" stroke="#555" stroke-width="0.9" />
<text x="452.90" y="416.60" font-size="10.7" text-anchor="middle" font-weight="bold" fill="#000" stroke="#000" stroke-width="0.25" >5</text>
<text x="468.00" y="410.20" font-size="10.7" text-anchor="middle" font-weight="bold" fill="#000" stroke="#000" stroke-width="0.25" >10</text>
<text x="481.00" y="402.20" font-size="10.7" text-anchor="middle" font-weight="bold" fill="#000" stroke="#000" stroke-width="0.25" >15</text>
<text x="496.20" y="395.80" font-size="10.7" text-anchor="middle" font-weight="bold" fill="#000" stroke="#000" stroke-width="0.25" >20</text>
<text x="509.90" y="389.40" font-size="10.7" text-anchor="middle" font-weight="bold" fill="#000" stroke="#000" stroke-width="0.25" >25</text>
<polygon points="431.20,326.50 440.30,327.00 441.40,403.80 431.20,401.80" fill="#1410b8" stroke="none" stroke-width="0" />
<polygon points="439.50,327.00 452.60,397.30 440.20,403.60" fill="#2639ec" stroke="none" stroke-width="0" />
<polyline points="451.50,388.80 489.00,369.00" fill="none" stroke="#c8c0d8" stroke-width="0.8" stroke-linejoin="round" />
<polygon points="452.30,390.20 494.60,370.30 501.80,373.00 452.30,397.60" fill="#17b417" stroke="none" stroke-width="0" />
<polyline points="451.50,398.60 502.50,374.20" fill="none" stroke="#d8d0e8" stroke-width="0.8" stroke-linejoin="round" />
<text x="483.10" y="336.20" font-size="12" text-anchor="start" font-weight="bold" fill="#000" stroke="#000" stroke-width="0.25" ># 1</text>
<line x1="419.40" y1="445.60" x2="503.80" y2="397.70" stroke="#000" stroke-width="2.0" />
<line x1="419.40" y1="445.60" x2="498.00" y2="514.30" stroke="#000" stroke-width="2.0" />
<polygon points="501.30,517.10 495.71,515.14 498.60,511.83" fill="#000" stroke="none" stroke-width="0" />
<polyline points="425.90,420.70 425.90,498.00 465.80,532.50" fill="none" stroke="#444" stroke-width="1.0" stroke-linejoin="round" />
<line x1="424.00" y1="420.70" x2="425.90" y2="420.70" stroke="#555" stroke-width="0.9" />
<line x1="424.00" y1="462.00" x2="425.90" y2="462.00" stroke="#555" stroke-width="0.9" />
<line x1="437.10" y1="507.60" x2="437.60" y2="509.80" stroke="#444" stroke-width="0.9" />
<line x1="447.40" y1="516.50" x2="447.90" y2="518.70" stroke="#444" stroke-width="0.9" />
<line x1="456.50" y1="524.40" x2="457.00" y2="526.60" stroke="#444" stroke-width="0.9" />
<line x1="466.00" y1="534.80" x2="468.60" y2="534.80" stroke="#444" stroke-width="0.9" />
<text x="416.70" y="503.60" font-size="10.8" text-anchor="middle" font-weight="bold" fill="#000" stroke="#000" stroke-width="0.25" >5</text>
<text x="424.60" y="512.40" font-size="10.8" text-anchor="middle" font-weight="bold" fill="#000" stroke="#000" stroke-width="0.25" >10</text>
<text x="434.20" y="523.90" font-size="10.8" text-anchor="middle" font-weight="bold" fill="#000" stroke="#000" stroke-width="0.25" >15</text>
<text x="443.90" y="531.60" font-size="10.8" text-anchor="middle" font-weight="bold" fill="#000" stroke="#000" stroke-width="0.25" >20</text>
<text x="457.20" y="542.20" font-size="10.8" text-anchor="middle" font-weight="bold" fill="#000" stroke="#000" stroke-width="0.25" >25</text>
<polygon points="449.30,429.40 455.50,429.40 459.80,470.00 463.20,514.80 480.50,529.80 473.00,532.20 455.30,517.30 451.50,470.00" fill="#17b417" stroke="none" stroke-width="0" />
<polygon points="447.70,429.40 449.90,430.00 452.10,470.00 455.90,517.50 441.30,505.20" fill="#2639ec" stroke="none" stroke-width="0" />
<polygon points="447.70,429.40 449.80,430.00 450.00,440.00 448.00,440.00" fill="#101880" stroke="none" stroke-width="0" />
<polygon points="440.50,425.30 448.30,429.60 441.90,505.60 433.50,499.70" fill="#f47575" stroke="none" stroke-width="0" />
<polyline points="464.40,514.20 484.40,529.40 476.00,533.00" fill="none" stroke="#d8d0e8" stroke-width="0.8" stroke-linejoin="round" />
<polygon points="440.50,425.30 447.20,424.40 455.50,429.40 447.70,429.40" fill="#17b417" stroke="none" stroke-width="0" />
<polygon points="440.50,425.30 445.00,424.80 449.00,429.40 447.70,429.40" fill="#e06a6a" stroke="none" stroke-width="0" />
<text x="483.40" y="481.80" font-size="12" text-anchor="start" font-weight="bold" fill="#000" stroke="#000" stroke-width="0.25" ># 2</text>
<rect x="186.20" y="567.20" width="8.6" height="8.6" fill="#2a2ad8" stroke="#333" stroke-width="0.8"/>
<text x="198.30" y="575.30" font-size="12.4" text-anchor="start" font-weight="bold" fill="#000" textLength="49.7" lengthAdjust="spacingAndGlyphs">Myeloid</text>
<rect x="256.40" y="567.20" width="8.6" height="8.6" fill="#f06060" stroke="#333" stroke-width="0.8"/>
<text x="267.90" y="575.30" font-size="12.4" text-anchor="start" font-weight="bold" fill="#000" textLength="37.3" lengthAdjust="spacingAndGlyphs">B cells</text>
<rect x="314.60" y="567.20" width="8.6" height="8.6" fill="#33dd33" stroke="#333" stroke-width="0.8"/>
<text x="326.00" y="575.30" font-size="12.4" text-anchor="start" font-weight="bold" fill="#000" textLength="36.2" lengthAdjust="spacingAndGlyphs">T cells</text>
</svg>
</body></html>
